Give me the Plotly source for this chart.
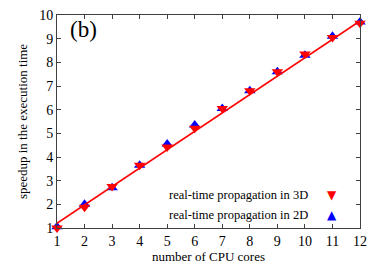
import plotly.graph_objects as go

cores = [1, 2, 3, 4, 5, 6, 7, 8, 9, 10, 11, 12]
speedup_3d = [1.0, 1.88, 2.75, 3.65, 4.42, 5.22, 6.05, 6.8, 7.6, 8.35, 9.05, 9.65]
speedup_2d = [1.05, 2.0, 2.7, 3.65, 4.55, 5.35, 6.05, 6.8, 7.6, 8.3, 9.1, 9.7]
fit_slope = 0.777
fit_intercept = 0.423
label_3d = "real-time propagation in 3D"
label_2d = "real-time propagation in 2D"
panel_label = "(b)"

fit_x = [cores[0], cores[-1]]
fit_y = [fit_slope * x + fit_intercept for x in fit_x]

FONT = "Liberation Serif, Times New Roman, DejaVu Serif, serif"

fig = go.Figure()
fig.add_trace(go.Scatter(x=cores, y=speedup_2d, mode="markers",
                         marker=dict(symbol="triangle-up", size=10, color="#0000ff"),
                         showlegend=False, cliponaxis=False))
fig.add_trace(go.Scatter(x=cores, y=speedup_3d, mode="markers",
                         marker=dict(symbol="triangle-down", size=10, color="#ff0000"),
                         showlegend=False, cliponaxis=False))
fig.add_trace(go.Scatter(x=fit_x, y=fit_y, mode="lines",
                         line=dict(color="#ff0000", width=1.5),
                         showlegend=False, cliponaxis=False))

axis_common = dict(showgrid=False, zeroline=False, showline=True, linecolor="#404040",
                   linewidth=1, mirror="ticks", ticks="inside", ticklen=4,
                   tickcolor="#404040", automargin=False,
                   tickfont=dict(family=FONT, size=14, color="black"))

fig.update_xaxes(range=[1, 12], tickvals=cores, title=dict(text="number of CPU cores",
                 font=dict(family=FONT, size=13, color="black"), standoff=3), **axis_common)
fig.update_yaxes(range=[1, 10], tickvals=list(range(1, 11)),
                 title=dict(text="speedup in the execution time",
                            font=dict(family=FONT, size=13, color="black"), standoff=8),
                 **axis_common)

annotations = [
    dict(text=panel_label, x=0.035, y=0.93, xref="paper", yref="paper",
         xanchor="left", yanchor="middle", showarrow=False,
         font=dict(family=FONT, size=23, color="black")),
    dict(text=label_3d, x=0.835, y=0.157, xref="paper", yref="paper",
         xanchor="right", yanchor="middle", showarrow=False,
         font=dict(family=FONT, size=12.5, color="black")),
    dict(text=label_2d, x=0.835, y=0.059, xref="paper", yref="paper",
         xanchor="right", yanchor="middle", showarrow=False,
         font=dict(family=FONT, size=12.5, color="black")),
    dict(text="▼", x=0.907, y=0.157, xref="paper", yref="paper",
         xanchor="center", yanchor="middle", showarrow=False,
         font=dict(family="DejaVu Sans", size=12, color="#ff0000")),
    dict(text="▲", x=0.907, y=0.059, xref="paper", yref="paper",
         xanchor="center", yanchor="middle", showarrow=False,
         font=dict(family="DejaVu Sans", size=12, color="#0000ff")),
]

fig.update_layout(template="none", width=382, height=267,
                  margin=dict(l=57, r=22, t=15, b=39, autoexpand=False),
                  plot_bgcolor="white", paper_bgcolor="white",
                  annotations=annotations, font=dict(family=FONT))

fig.write_html("out.html", config={"displayModeBar": False},
               post_script="document.body.style.margin='0px';document.body.style.overflow='hidden';")
